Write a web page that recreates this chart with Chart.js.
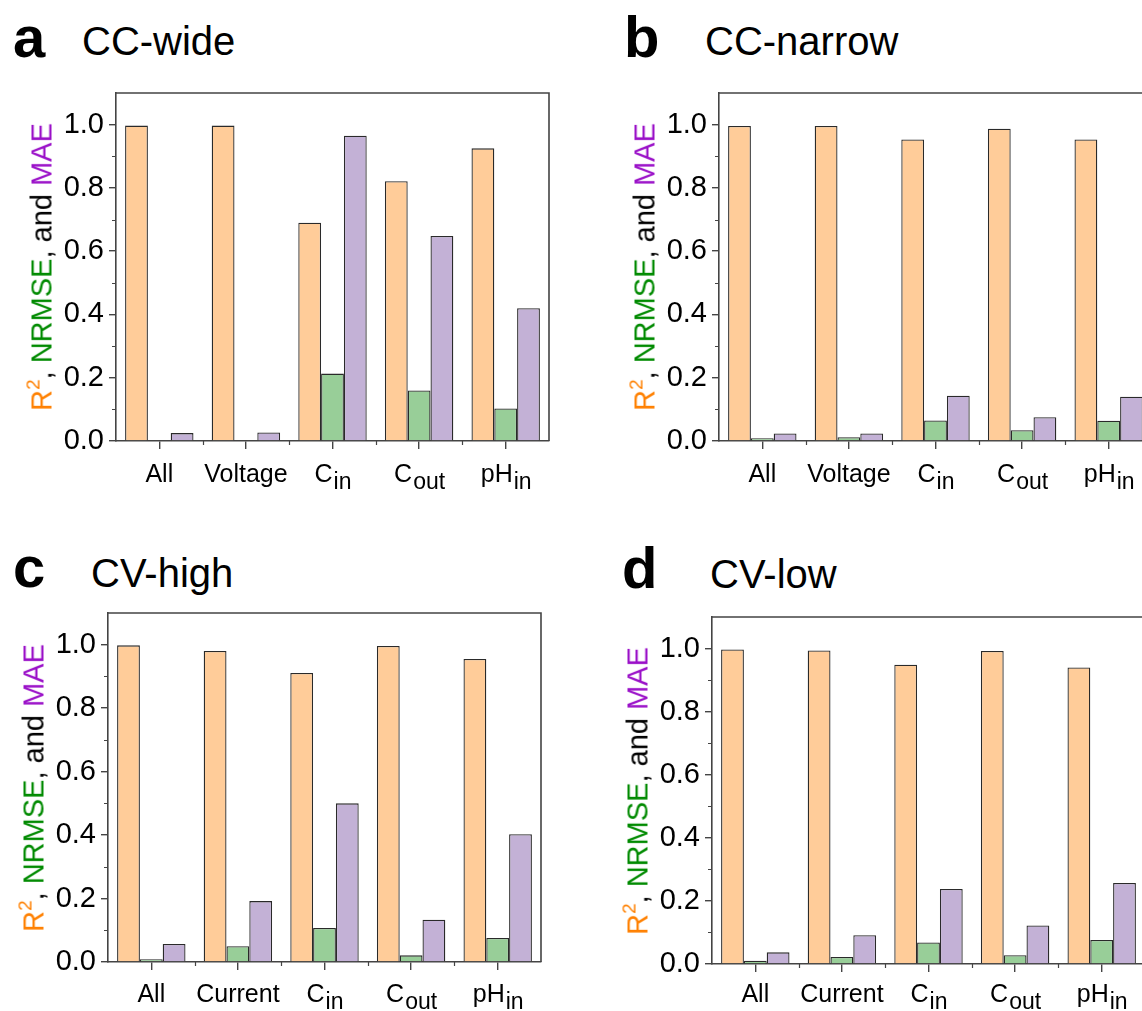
<!DOCTYPE html>
<html>
<head>
<meta charset="utf-8">
<script src="https://cdn.jsdelivr.net/npm/chart.js@4.4.1/dist/chart.umd.min.js"></script>
<style>
  html, body { margin: 0; padding: 0; background: #fff; overflow: hidden; width: 1142px; height: 1011px; }
  body { position: relative; font-family: "Liberation Sans", Arial, sans-serif; }
  canvas { position: absolute; }
  .letter { position: absolute; font-weight: bold; font-size: 58px; line-height: 1; color: #000; }
  .ptitle { position: absolute; font-size: 40px; line-height: 1; color: #000; white-space: nowrap; }
  .ytitle { position: absolute; font-size: 29px; line-height: 1; white-space: nowrap;
            transform: translate(-50%, -50%) rotate(-90deg); color: #000; }
  .ytitle sup { font-size: 19px; vertical-align: 12px; line-height: 0; }
</style>
</head>
<body>

<div class="letter" style="left:13px; top:8px;">a</div>
<div class="ptitle" style="left:82px; top:21px;">CC-wide</div>
<div class="letter" style="left:624px; top:8px;">b</div>
<div class="ptitle" style="left:705px; top:21px;">CC-narrow</div>
<div class="letter" style="left:13px; top:538px;">c</div>
<div class="ptitle" style="left:91px; top:553px;">CV-high</div>
<div class="letter" style="left:622px; top:539px;">d</div>
<div class="ptitle" style="left:710px; top:554px;">CV-low</div>

<canvas id="chartA"></canvas>
<canvas id="chartB"></canvas>
<canvas id="chartC"></canvas>
<canvas id="chartD"></canvas>

<script>
// categories (main text + subscript)
const categoriesCC = ['All', 'Voltage', 'C', 'C', 'pH'];
const categoriesCV = ['All', 'Current', 'C', 'C', 'pH'];
const subscripts = ['', '', 'in', 'out', 'in'];

// y axis ticks
const yMajorTicks = [0, 0.2, 0.4, 0.6, 0.8, 1.0];
const yMinorTicks = [0.1, 0.3, 0.5, 0.7, 0.9];

// a  CC-wide
const r2A    = [0.997, 0.997, 0.690, 0.821, 0.925];
const nrmseA = [0.002, 0.002, 0.213, 0.160, 0.103];
const maeA   = [0.025, 0.027, 0.965, 0.648, 0.420];

// b  CC-narrow
const r2B    = [0.996, 0.996, 0.953, 0.987, 0.953];
const nrmseB = [0.009, 0.012, 0.065, 0.034, 0.064];
const maeB   = [0.024, 0.024, 0.143, 0.075, 0.140];

// c  CV-high
const r2C    = [0.998, 0.980, 0.911, 0.996, 0.955];
const nrmseC = [0.009, 0.050, 0.107, 0.021, 0.076];
const maeC   = [0.057, 0.192, 0.500, 0.133, 0.403];

// d  CV-low
const r2D    = [0.997, 0.994, 0.949, 0.992, 0.940];
const nrmseD = [0.010, 0.022, 0.068, 0.028, 0.076];
const maeD   = [0.037, 0.091, 0.238, 0.122, 0.257];

const FONT = '"Liberation Sans", Arial, sans-serif';
const AXIS_COLOR = '#444';
const Y_AXIS_W = 60;
const X_AXIS_H = 60;
const PAD_T = 10;
const PAD_R = 10;

// frame, minor ticks and subscripted x labels
const decorPlugin = {
    id: 'decor',
    afterDraw(chart) {
        const ctx = chart.ctx;
        const a = chart.chartArea;
        const xs = chart.scales.x;
        const ys = chart.scales.y;
        ctx.save();
        ctx.strokeStyle = AXIS_COLOR;
        ctx.lineWidth = 1.6;
        ctx.beginPath();
        ctx.moveTo(a.left, a.top);
        ctx.lineTo(a.right, a.top);
        ctx.lineTo(a.right, a.bottom);
        ctx.stroke();

        // minor ticks
        ctx.lineWidth = 1.2;
        ctx.beginPath();
        yMinorTicks.forEach(v => {
            const y = Math.round(ys.getPixelForValue(v)) + 0.5;
            ctx.moveTo(a.left - 4, y);
            ctx.lineTo(a.left, y);
        });
        const n = chart.data.labels.length;
        for (let i = 0; i < n - 1; i++) {
            const x = Math.round((xs.getPixelForValue(i) + xs.getPixelForValue(i + 1)) / 2) + 0.5;
            ctx.moveTo(x, a.bottom);
            ctx.lineTo(x, a.bottom + 4);
        }
        ctx.stroke();

        // x labels with subscripts
        const subs = chart.options.plugins.decor.subs;
        const dy = chart.options.plugins.decor.labelDy;
        ctx.fillStyle = '#000';
        ctx.textBaseline = 'alphabetic';
        ctx.textAlign = 'left';
        chart.data.labels.forEach((lab, i) => {
            ctx.font = '25px ' + FONT;
            const w1 = ctx.measureText(lab).width;
            ctx.font = '23px ' + FONT;
            const w2 = subs[i] ? ctx.measureText(subs[i]).width : 0;
            const cx = xs.getPixelForValue(i);
            const x0 = cx - (w1 + w2) / 2;
            ctx.font = '25px ' + FONT;
            ctx.fillText(lab, x0, a.bottom + dy);
            if (subs[i]) {
                ctx.font = '23px ' + FONT;
                ctx.fillText(subs[i], x0 + w1 + 1, a.bottom + dy + 7);
            }
        });
        ctx.restore();
    }
};

function yTitle(cx, cy) {
    const d = document.createElement('div');
    d.className = 'ytitle';
    d.style.left = cx + 'px';
    d.style.top = cy + 'px';
    d.innerHTML = '<span style="color:#FF8000">R<sup>2</sup></span>, ' +
        '<span style="color:#008A00">NRMSE</span>, and ' +
        '<span style="color:#9A10C8">MAE</span>';
    document.body.appendChild(d);
}

function makePanel(id, left, top, right, bottom, labelDy, cats, r2, nrmse, mae) {
    const cv = document.getElementById(id);
    const w = (right - left) + Y_AXIS_W + PAD_R;
    const h = (bottom - top) + PAD_T + X_AXIS_H;
    cv.width = w;
    cv.height = h;
    cv.style.left = (left - Y_AXIS_W) + 'px';
    cv.style.top = (top - PAD_T) + 'px';
    yTitle(left - 74, (top + bottom) / 2);

    const common = { barPercentage: 1.0, categoryPercentage: 0.79, borderWidth: 1.3, borderColor: '#2a2a2a' };

    return new Chart(cv.getContext('2d'), {
        type: 'bar',
        data: {
            labels: cats,
            datasets: [
                Object.assign({ label: 'R2', data: r2, backgroundColor: '#FFCC99' }, common),
                Object.assign({ label: 'NRMSE', data: nrmse, backgroundColor: '#98CE98' }, common),
                Object.assign({ label: 'MAE', data: mae, backgroundColor: '#C3B1D6' }, common)
            ]
        },
        options: {
            responsive: false,
            animation: false,
            devicePixelRatio: 1,
            layout: { padding: { top: PAD_T, right: PAD_R, left: 0, bottom: 0 } },
            plugins: {
                legend: { display: false },
                tooltip: { enabled: false },
                decor: { subs: subscripts, labelDy: labelDy }
            },
            scales: {
                x: {
                    offset: true,
                    grid: { display: true, offset: false, drawOnChartArea: false, drawTicks: true,
                            tickLength: 8, color: AXIS_COLOR, lineWidth: 1.4 },
                    border: { display: true, color: AXIS_COLOR, width: 1.6 },
                    ticks: { display: false },
                    afterFit: (s) => { s.height = X_AXIS_H; s.paddingLeft = 0; s.paddingRight = 0; }
                },
                y: {
                    min: 0,
                    max: 1.1,
                    grid: { display: true, drawOnChartArea: false, drawTicks: true,
                            tickLength: 7, color: AXIS_COLOR, lineWidth: 1.4 },
                    border: { display: true, color: AXIS_COLOR, width: 1.6 },
                    afterBuildTicks: (s) => { s.ticks = yMajorTicks.map(v => ({ value: v })); },
                    ticks: {
                        color: '#000',
                        padding: 5,
                        font: { family: FONT, size: 29 },
                        callback: (v) => Number(v).toFixed(1)
                    },
                    afterFit: (s) => { s.width = Y_AXIS_W; s.paddingTop = 0; s.paddingBottom = 0; }
                }
            }
        },
        plugins: [decorPlugin]
    });
}

makePanel('chartA', 116, 93, 549, 441, 41, categoriesCC, r2A, nrmseA, maeA);
makePanel('chartB', 719, 93, 1152, 441, 41, categoriesCC, r2B, nrmseB, maeB);
makePanel('chartC', 108, 613, 541, 962, 40, categoriesCV, r2C, nrmseC, maeC);
makePanel('chartD', 712, 617, 1145, 964, 38, categoriesCV, r2D, nrmseD, maeD);
</script>
</body>
</html>
